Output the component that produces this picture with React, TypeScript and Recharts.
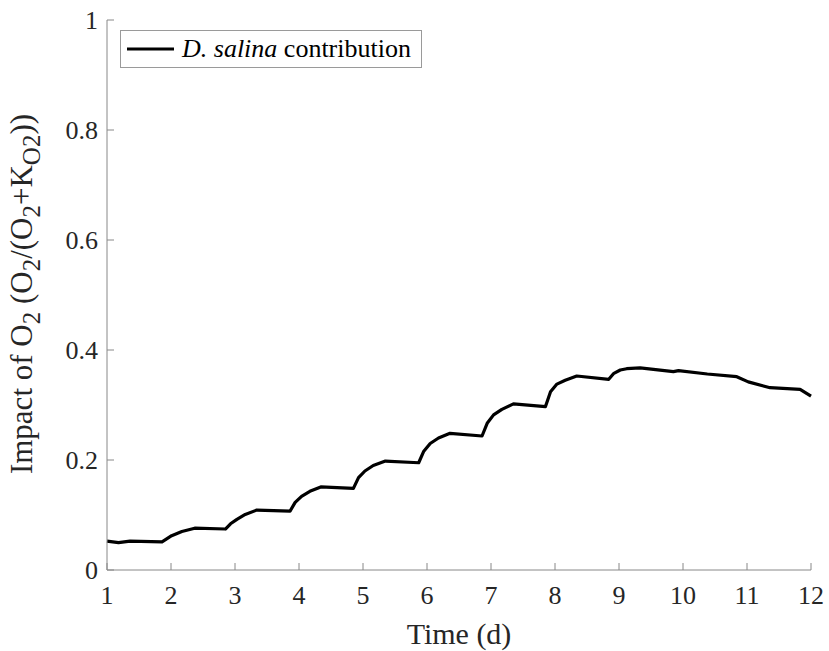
import React from "react";
import { LineChart, Line, XAxis, YAxis, Legend } from "recharts";

// time (d) and O2 impact
const days = [
  1.0, 1.18, 1.36, 1.86, 2.01, 2.17, 2.37, 2.85, 2.93, 3.03, 3.16, 3.34, 3.86, 3.94,
  4.04, 4.17, 4.34, 4.85, 4.93, 5.03, 5.16, 5.35, 5.87, 5.95, 6.05, 6.18, 6.36, 6.86,
  6.94, 7.04, 7.17, 7.35, 7.85, 7.93, 8.03, 8.16, 8.34, 8.84, 8.92, 9.02, 9.12, 9.33,
  9.85, 9.93, 10.38, 10.84, 11.02, 11.36, 11.83, 12.0,
];
const impact = [
  0.0525, 0.0497, 0.0525, 0.0513, 0.0624, 0.07, 0.076, 0.0745, 0.084, 0.092, 0.101,
  0.109, 0.107, 0.123, 0.134, 0.143, 0.151, 0.1485, 0.168, 0.18, 0.19, 0.198, 0.195,
  0.216, 0.23, 0.24, 0.2485, 0.2436, 0.2667, 0.282, 0.292, 0.302, 0.297, 0.324, 0.338,
  0.345, 0.3527, 0.3467, 0.3576, 0.3636, 0.366, 0.3675, 0.3606, 0.3624, 0.3564, 0.3515,
  0.342, 0.3315, 0.3285, 0.316,
];
const xTicks = [1, 2, 3, 4, 5, 6, 7, 8, 9, 10, 11, 12];
const yTicks = [0, 0.2, 0.4, 0.6, 0.8, 1];

const data = days.map((t, i) => ({ t, v: impact[i] }));

const FONT = "'Liberation Serif', 'Times New Roman', serif";
const AXIS = "#888888";
const TEXT = "#262626";

const YTitle = () => (
  <text
    transform="translate(32, 294) rotate(-90)"
    textAnchor="middle"
    fontFamily={FONT}
    fontSize={31}
    fill={TEXT}
  >
    <tspan>Impact of O</tspan>
    <tspan fontSize={25} dy={8}>2</tspan>
    <tspan dy={-8}> (O</tspan>
    <tspan fontSize={25} dy={8}>2</tspan>
    <tspan dy={-8}>/(O</tspan>
    <tspan fontSize={25} dy={8}>2</tspan>
    <tspan dy={-8}>+K</tspan>
    <tspan fontSize={25} dy={8}>O2</tspan>
    <tspan dy={-8}>))</tspan>
  </text>
);

const LegendBox = () => (
  <div
    style={{
      display: "flex",
      alignItems: "center",
      border: "1px solid #9a9a9a",
      background: "#fff",
      height: 36,
      padding: "0 10px 0 6px",
      fontFamily: FONT,
      fontSize: 26,
      color: "#000",
      whiteSpace: "nowrap",
    }}
  >
    <svg width={48} height={10} style={{ marginRight: 7 }}>
      <line x1={0} y1={5} x2={47} y2={5} stroke="#000" strokeWidth={3} />
    </svg>
    <span>
      <i>D. salina</i> contribution
    </span>
  </div>
);

export default function App() {
  return (
    <div style={{ position: "absolute", left: 0, top: 0, background: "#fff" }}>
      <LineChart
        width={829}
        height={651}
        data={data}
        margin={{ top: 20, right: 18, bottom: 0, left: 0 }}
      >
        <XAxis
          dataKey="t"
          type="number"
          domain={[1, 12]}
          ticks={xTicks}
          height={81}
          stroke={AXIS}
          tickSize={-7}
          tickMargin={23}
          tick={{ fill: TEXT, fontSize: 26, fontFamily: FONT }}
          label={{
            value: "Time (d)",
            position: "insideBottom",
            offset: 7,
            fill: TEXT,
            fontSize: 30,
            fontFamily: FONT,
          }}
        />
        <YAxis
          type="number"
          domain={[0, 1]}
          ticks={yTicks}
          width={107}
          stroke={AXIS}
          tickSize={-7}
          tickMargin={16}
          tickFormatter={(v: number) => String(v)}
          tick={{ fill: TEXT, fontSize: 26, fontFamily: FONT }}
          label={{ content: () => <YTitle /> }}
        />
        <Legend
          layout="horizontal"
          verticalAlign="middle"
          align="center"
          wrapperStyle={{ left: 120, top: 30, width: "auto" }}
          content={() => <LegendBox />}
        />
        <Line
          type="linear"
          dataKey="v"
          stroke="#000"
          strokeWidth={3.2}
          strokeLinejoin="round"
          dot={false}
          isAnimationActive={false}
          name="D. salina contribution"
        />
      </LineChart>
    </div>
  );
}
